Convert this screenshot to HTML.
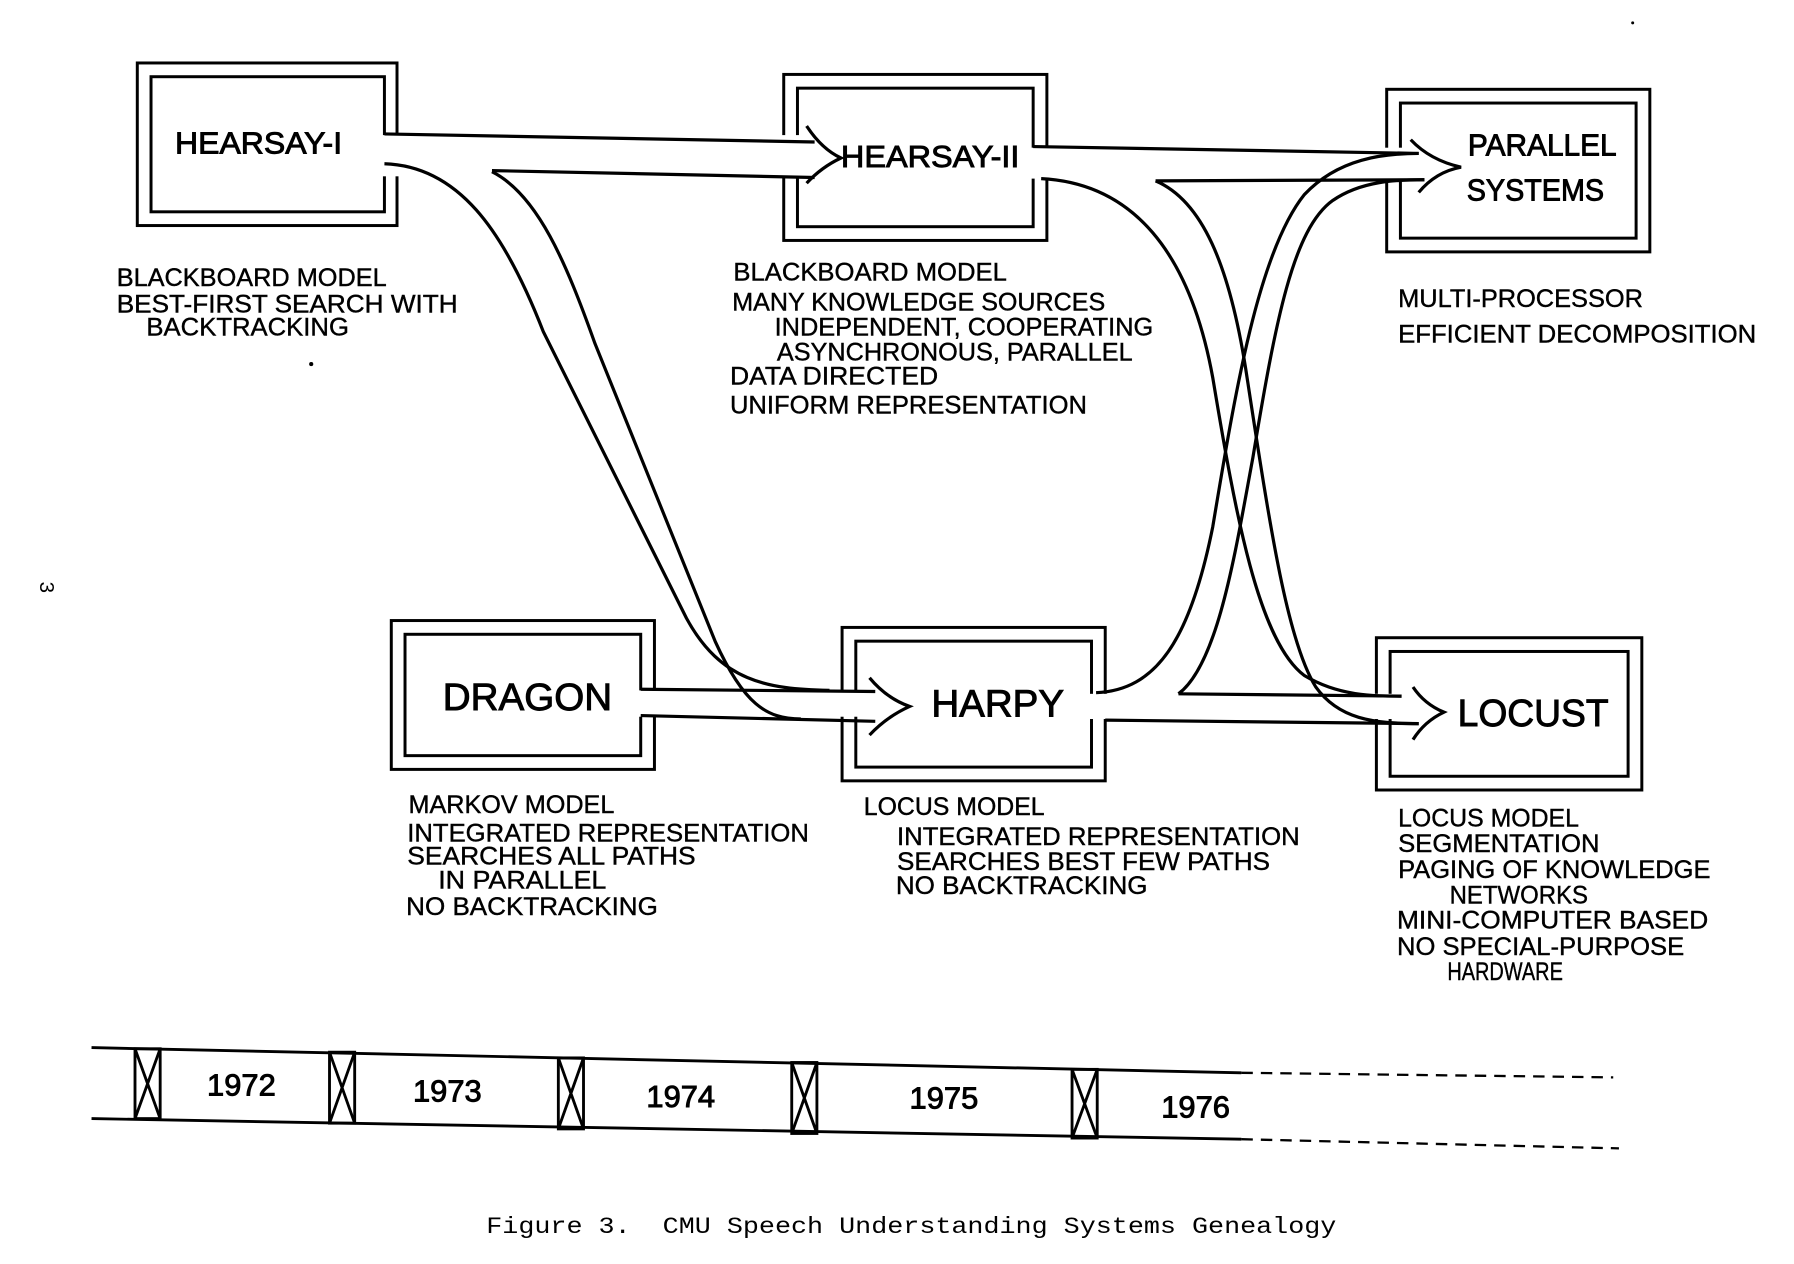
<!DOCTYPE html>
<html><head><meta charset="utf-8"><style>
html,body{margin:0;padding:0;background:#fff;}
svg{display:block;}
text{font-family:"Liberation Sans",sans-serif;fill:#000;}
.n{font-size:22px;stroke:#000;stroke-width:0.35;}
.b{font-size:27px;stroke:#000;stroke-width:0.8;}
</style></head><body>
<svg width="1794" height="1264" viewBox="0 0 1568 1104" preserveAspectRatio="none" xmlns="http://www.w3.org/2000/svg">
<g fill="none" stroke="#000" stroke-width="2.6">
<rect x="120" y="55" width="227" height="142"/><rect x="132" y="67" width="204" height="118"/>
<rect x="685" y="65" width="230" height="145"/><rect x="697" y="77" width="206" height="121"/>
<rect x="1212" y="78" width="230" height="142"/><rect x="1224" y="90" width="206" height="118"/>
<rect x="342" y="542" width="230" height="130"/><rect x="354" y="554" width="206" height="106"/>
<rect x="736" y="548" width="230" height="134"/><rect x="748" y="560" width="206" height="110"/>
<rect x="1203" y="557" width="232" height="133"/><rect x="1215" y="569" width="208" height="109"/>
</g>
<g fill="#fff" stroke="none">
<rect x="334" y="118" width="380" height="36"/>
<rect x="558" y="603" width="205" height="23"/>
<rect x="900" y="129" width="340" height="27"/>
<rect x="952" y="606" width="280" height="22"/>
</g>
<g fill="none" stroke="#000" stroke-width="2.8">
<path d="M336 117 L712 124"/><path d="M430 149 L712 155"/>
<path d="M705 110 Q718 130 735 138 Q718 146 705 160"/>
<path d="M336 143 C400 145 440 200 475 290 L600 540 C630 595 670 602 725 603"/>
<path d="M430 150 C470 170 495 230 520 300 L625 560 C650 615 670 628 700 628"/>
<path d="M560 602 L765 604"/><path d="M560 625 L765 630"/>
<path d="M760 592 Q775 610 795 617 Q775 626 760 642"/>
<path d="M903 128 L1240 134"/><path d="M1010 158 L1245 157"/>
<path d="M1233 122 Q1250 140 1277 146 Q1255 150 1240 168"/>
<path d="M910 156 C990 160 1040 220 1060 330 C1080 450 1100 560 1140 590 C1170 608 1200 608 1225 608"/>
<path d="M1010 158 C1050 175 1075 230 1090 330 C1110 460 1125 560 1150 600 C1170 628 1200 632 1240 632"/>
<path d="M958 605 C1010 603 1040 560 1060 460 C1080 340 1100 220 1140 170 C1170 138 1210 134 1240 134"/>
<path d="M1030 606 C1065 580 1080 480 1095 400 C1115 280 1130 200 1165 175 C1190 158 1220 157 1245 157"/>
<path d="M966 629 L1240 632"/><path d="M1030 606 L1225 608"/>
<path d="M1235 600 Q1245 615 1262 622 Q1245 630 1235 646"/>
</g>
<text class="b" x="226" y="134" text-anchor="middle" textLength="146" lengthAdjust="spacingAndGlyphs">HEARSAY-I</text>
<text class="b" x="813" y="146" text-anchor="middle" textLength="156" lengthAdjust="spacingAndGlyphs">HEARSAY-II</text>
<text class="b" x="1348" y="136" text-anchor="middle" textLength="130" lengthAdjust="spacingAndGlyphs">PARALLEL</text>
<text class="b" x="1342" y="175" text-anchor="middle" textLength="120" lengthAdjust="spacingAndGlyphs">SYSTEMS</text>
<text class="b" x="461" y="620" text-anchor="middle" style="font-size:33px" textLength="148" lengthAdjust="spacingAndGlyphs">DRAGON</text>
<text class="b" x="872" y="626" text-anchor="middle" style="font-size:33px" textLength="116" lengthAdjust="spacingAndGlyphs">HARPY</text>
<text class="b" x="1340" y="634" text-anchor="middle" style="font-size:33px" textLength="132" lengthAdjust="spacingAndGlyphs">LOCUST</text>
<g>
<text class="n" x="102" y="250" textLength="236" lengthAdjust="spacingAndGlyphs">BLACKBOARD MODEL</text>
<text class="n" x="102" y="273" textLength="298" lengthAdjust="spacingAndGlyphs">BEST-FIRST SEARCH WITH</text>
<text class="n" x="128" y="293" textLength="177" lengthAdjust="spacingAndGlyphs">BACKTRACKING</text>
<text class="n" x="641" y="245" textLength="239" lengthAdjust="spacingAndGlyphs">BLACKBOARD MODEL</text>
<text class="n" x="640" y="271" textLength="326" lengthAdjust="spacingAndGlyphs">MANY KNOWLEDGE SOURCES</text>
<text class="n" x="677" y="293" textLength="331" lengthAdjust="spacingAndGlyphs">INDEPENDENT, COOPERATING</text>
<text class="n" x="679" y="315" textLength="311" lengthAdjust="spacingAndGlyphs">ASYNCHRONOUS, PARALLEL</text>
<text class="n" x="638" y="336" textLength="182" lengthAdjust="spacingAndGlyphs">DATA DIRECTED</text>
<text class="n" x="638" y="361" textLength="312" lengthAdjust="spacingAndGlyphs">UNIFORM REPRESENTATION</text>
<text class="n" x="1222" y="268" textLength="214" lengthAdjust="spacingAndGlyphs">MULTI-PROCESSOR</text>
<text class="n" x="1222" y="299" textLength="313" lengthAdjust="spacingAndGlyphs">EFFICIENT DECOMPOSITION</text>
<text class="n" x="357" y="710" textLength="180" lengthAdjust="spacingAndGlyphs">MARKOV MODEL</text>
<text class="n" x="356" y="735" textLength="351" lengthAdjust="spacingAndGlyphs">INTEGRATED REPRESENTATION</text>
<text class="n" x="356" y="755" textLength="252" lengthAdjust="spacingAndGlyphs">SEARCHES ALL PATHS</text>
<text class="n" x="383" y="776" textLength="147" lengthAdjust="spacingAndGlyphs">IN PARALLEL</text>
<text class="n" x="355" y="799" textLength="220" lengthAdjust="spacingAndGlyphs">NO BACKTRACKING</text>
<text class="n" x="755" y="712" textLength="158" lengthAdjust="spacingAndGlyphs">LOCUS MODEL</text>
<text class="n" x="784" y="738" textLength="352" lengthAdjust="spacingAndGlyphs">INTEGRATED REPRESENTATION</text>
<text class="n" x="784" y="760" textLength="326" lengthAdjust="spacingAndGlyphs">SEARCHES BEST FEW PATHS</text>
<text class="n" x="783" y="781" textLength="220" lengthAdjust="spacingAndGlyphs">NO BACKTRACKING</text>
<text class="n" x="1222" y="722" textLength="158" lengthAdjust="spacingAndGlyphs">LOCUS MODEL</text>
<text class="n" x="1222" y="744" textLength="176" lengthAdjust="spacingAndGlyphs">SEGMENTATION</text>
<text class="n" x="1222" y="767" textLength="273" lengthAdjust="spacingAndGlyphs">PAGING OF KNOWLEDGE</text>
<text class="n" x="1267" y="789" textLength="121" lengthAdjust="spacingAndGlyphs">NETWORKS</text>
<text class="n" x="1221" y="811" textLength="272" lengthAdjust="spacingAndGlyphs">MINI-COMPUTER BASED</text>
<text class="n" x="1221" y="834" textLength="251" lengthAdjust="spacingAndGlyphs">NO SPECIAL-PURPOSE</text>
<text class="n" x="1265" y="856" textLength="101" lengthAdjust="spacingAndGlyphs">HARDWARE</text>
</g>
<circle cx="272" cy="318" r="1.8" fill="#000"/>
<text x="35" y="513" style="font-size:18px" transform="rotate(90 35 513)" text-anchor="middle">3</text>
<g fill="none" stroke="#000" stroke-width="2.5">
<path d="M80 915 L1085 937"/><path d="M80 977 L1085 995"/>
<path d="M1085 937 L1410 941" stroke-dasharray="10 7" stroke-width="2"/>
<path d="M1085 995 L1415 1003" stroke-dasharray="10 7" stroke-width="2"/>
<rect x="118" y="916" width="22" height="61"/><path d="M118 916 L140 977 M140 916 L118 977"/>
<rect x="288" y="919" width="22" height="62"/><path d="M288 919 L310 981 M310 919 L288 981"/>
<rect x="488" y="924" width="22" height="62"/><path d="M488 924 L510 986 M510 924 L488 986"/>
<rect x="692" y="928" width="22" height="62"/><path d="M692 928 L714 990 M714 928 L692 990"/>
<rect x="937" y="934" width="22" height="60"/><path d="M937 934 L959 994 M959 934 L937 994"/>
</g>
<g text-anchor="middle">
<text class="b" x="211" y="957">1972</text>
<text class="b" x="391" y="962">1973</text>
<text class="b" x="595" y="967">1974</text>
<text class="b" x="825" y="968">1975</text>
<text class="b" x="1045" y="976">1976</text>
</g>
<text x="425" y="1077" style="font-family:'Liberation Mono',monospace;font-size:20px;white-space:pre" xml:space="preserve" textLength="743" lengthAdjust="spacingAndGlyphs">Figure 3.  CMU Speech Understanding Systems Genealogy</text>
<circle cx="1427" cy="20" r="1.3" fill="#000"/>
</svg>
</body></html>
